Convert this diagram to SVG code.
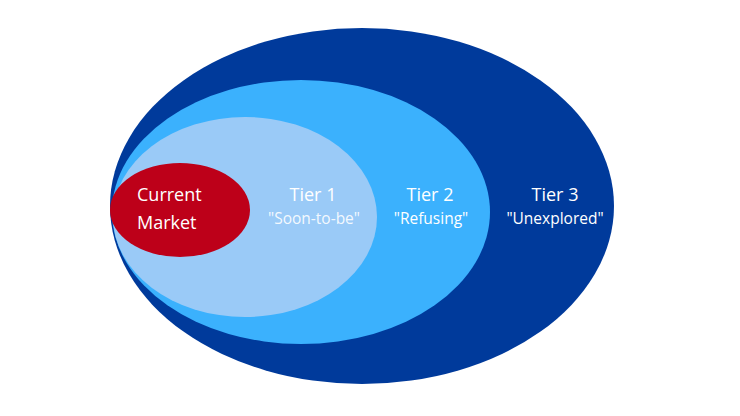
<svg xmlns="http://www.w3.org/2000/svg" width="740" height="416" viewBox="0 0 740 416">
<style>
.t{font-family:"Open Sans","Liberation Sans",sans-serif;fill:#fff;font-size:18px;font-weight:500}
.s{font-family:"Open Sans","Liberation Sans",sans-serif;fill:#fff;font-size:15.5px;font-weight:500}
.m{text-anchor:middle}
</style>
<rect width="740" height="416" fill="#fff"/>
<g id="tier3">
<ellipse cx="362" cy="206" rx="252" ry="178" fill="#003A9B"/>
<text class="t m" x="555" y="201">Tier 3</text>
<text class="s m" x="555" y="224">"Unexplored"</text>
</g>
<g id="tier2">
<ellipse cx="301" cy="212" rx="189" ry="132" fill="#3BB1FD"/>
<text class="t m" x="430" y="201">Tier 2</text>
<text class="s m" x="431" y="224">"Refusing"</text>
</g>
<g id="tier1">
<ellipse cx="245" cy="217" rx="132" ry="100" fill="#9ACAF7"/>
<text class="t m" x="313" y="201">Tier 1</text>
<text class="s m" x="314" y="224" fill-opacity="0.9">"Soon-to-be"</text>
</g>
<g id="current">
<ellipse cx="180" cy="210" rx="70" ry="47" fill="#BD0019"/>
<text class="t" x="137" y="201">Current</text>
<text class="t" x="137" y="229">Market</text>
</g>
<g id="connectors"/>
</svg>
